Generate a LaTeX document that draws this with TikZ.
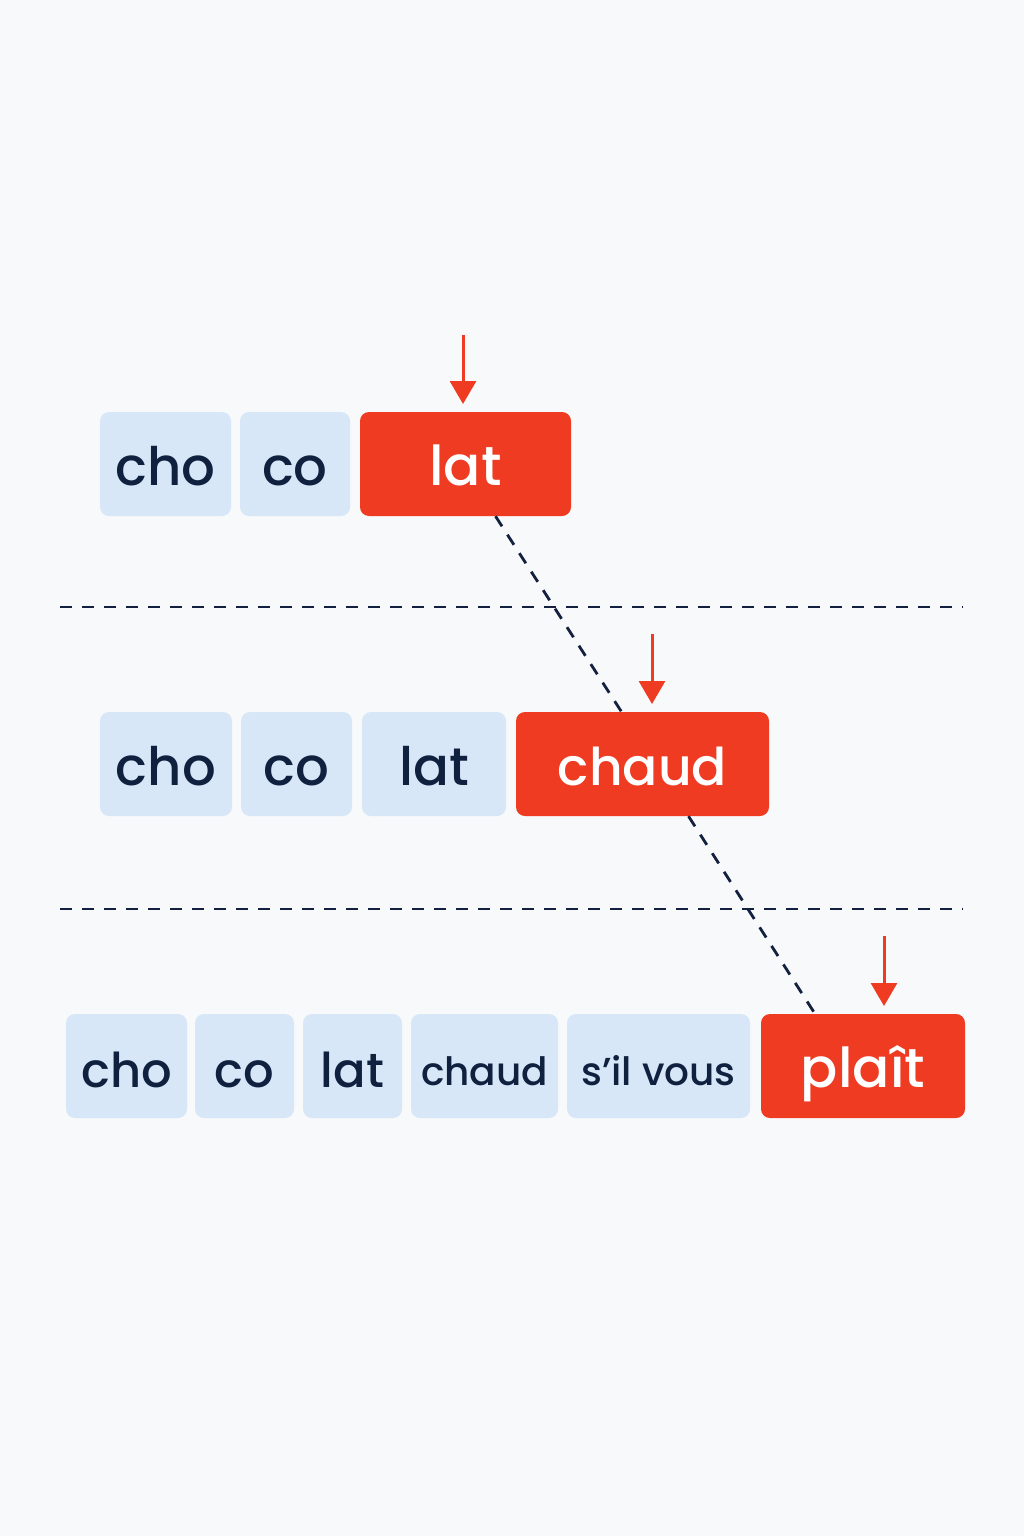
\documentclass[tikz,border=0pt]{standalone}
\usepackage{fontspec}
\setmainfont{Poppins Medium}
\usetikzlibrary{arrows.meta}
\definecolor{bg}{HTML}{F8F9FA}
\definecolor{lightbox}{HTML}{D7E7F7}
\definecolor{hot}{HTML}{EE3B22}
\definecolor{ink}{HTML}{10213F}
\definecolor{sep}{HTML}{13203F}
\tikzset{
  syl/.style={fill=lightbox, rounded corners=9pt, minimum height=104pt, inner sep=0pt, text=ink, font=\fontsize{53}{60}\selectfont, text height=43pt, text depth=0pt},
  hotbox/.style={fill=hot, rounded corners=9pt, minimum height=104pt, inner sep=0pt, text=white, font=\fontsize{55}{62}\selectfont, text height=43pt, text depth=0pt},
  wide/.style={font=\fontsize{52}{60}\selectfont},
  small/.style={font=\fontsize{48}{54}\selectfont, text height=42pt},
  tiny/.style={font=\fontsize{39}{46}\selectfont, text height=38pt},
  divider/.style={draw=sep, line width=2.8pt, dash pattern=on 12pt off 10pt},
  trail/.style={draw=sep, line width=2.8pt, dash pattern=on 12pt off 10pt},
  pointer/.style={draw=hot, line width=3pt, -{Triangle[width=26pt,length=23pt]}}
}
\begin{document}
\begin{tikzpicture}[x=1pt,y=-1pt]
\fill[bg] (0,0) rectangle (1024,1536);
\useasboundingbox (0,0) rectangle (1024,1536);
% row 1
\node[syl, minimum width=131pt] (r1a) at (165.5,464) {cho};
\node[syl, minimum width=110pt] (r1b) at (295,464) {co};
\node[hotbox, minimum width=211pt] (r1c) at (465.5,464) {lat};
% row 2
\node[syl, minimum width=132pt] (r2a) at (166,764) {cho};
\node[syl, minimum width=111pt] (r2b) at (296.5,764) {co};
\node[syl, minimum width=144pt] (r2c) at (434,764) {lat};
\node[hotbox, wide, minimum width=253pt] (r2d) at (642.5,764) {chaud};
% row 3
\node[syl, small, minimum width=121pt] (r3a) at (126.5,1066) {cho};
\node[syl, small, minimum width=99pt] (r3b) at (244.5,1066) {co};
\node[syl, small, minimum width=99pt] (r3c) at (352.5,1066) {lat};
\node[syl, tiny, minimum width=147pt] (r3d) at (484.5,1066) {chaud};
\node[syl, tiny, minimum width=183pt] (r3e) at (658.5,1066) {s’il vous};
\node[hotbox, minimum width=204pt] (r3f) at (863,1066) {plaît};
% dividers
\coordinate (d1l) at (60,607); \coordinate (d1r) at (963,607);
\coordinate (d2l) at (60,909); \coordinate (d2r) at (963,909);
\draw[divider] (d1l) -- (d1r);
\draw[divider] (d2l) -- (d2r);
% trail through the highlighted syllables
\coordinate (t1) at ([xshift=30pt]r1c.south);
\coordinate (t2) at ([xshift=-21pt]r2d.north);
\coordinate (t3) at ([xshift=46pt]r2d.south);
\coordinate (t4) at ([xshift=-48pt]r3f.north);
\draw[trail] (t1) -- (t2);
\draw[trail] (t3) -- (t4);
% pointers
\coordinate (p1) at (463,335); \coordinate (q1) at (463,404);
\coordinate (p2) at (652,634); \coordinate (q2) at (652,704);
\coordinate (p3) at (884,936); \coordinate (q3) at (884,1006);
\draw[pointer] (p1) -- (q1);
\draw[pointer] (p2) -- (q2);
\draw[pointer] (p3) -- (q3);
\end{tikzpicture}
\end{document}
